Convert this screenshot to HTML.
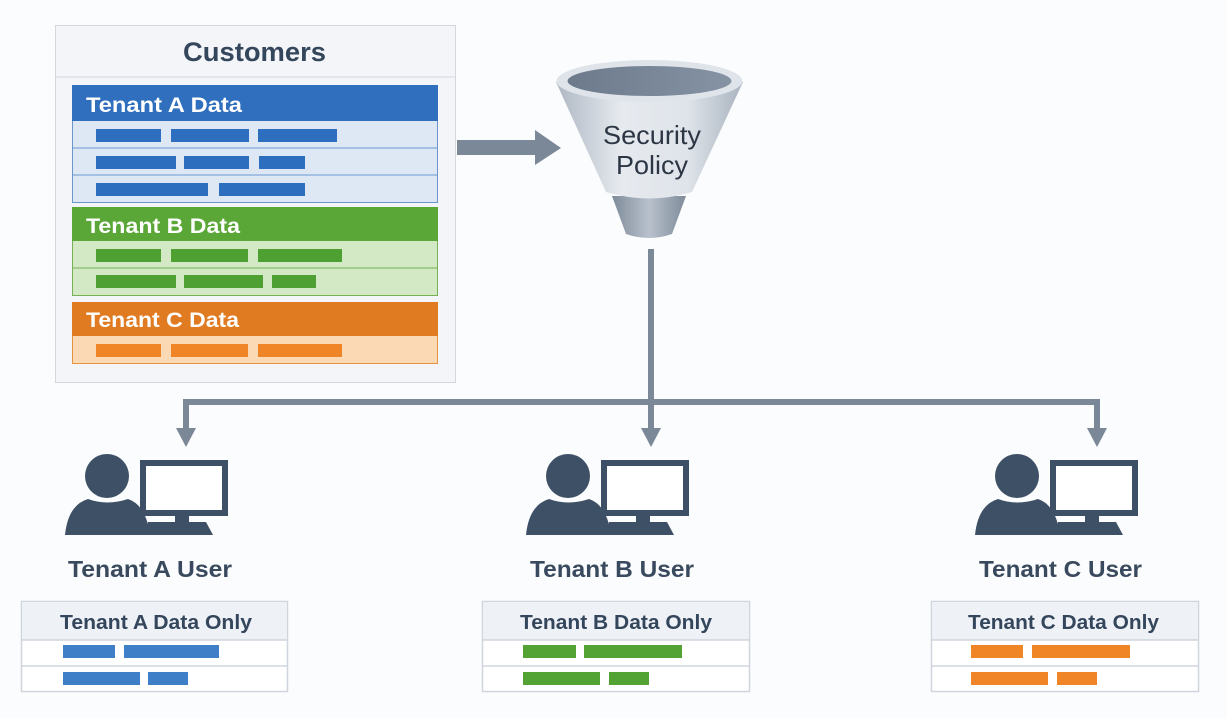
<!DOCTYPE html>
<html><head><meta charset="utf-8"><style>
html,body{margin:0;padding:0;background:#fbfcfd;}
svg{display:block;font-family:"Liberation Sans",sans-serif;}
</style></head><body>
<svg width="1227" height="718" viewBox="0 0 1227 718" xmlns="http://www.w3.org/2000/svg">
<defs>
<linearGradient id="fun" x1="0" x2="1" y1="0" y2="0">
<stop offset="0" stop-color="#aeb7c3"/><stop offset="0.35" stop-color="#e6eaef"/><stop offset="0.7" stop-color="#dfe4ea"/><stop offset="1" stop-color="#a9b3bf"/></linearGradient>
<linearGradient id="stem" x1="0" x2="1"><stop offset="0" stop-color="#7f8b9a"/><stop offset="0.5" stop-color="#b8c1cc"/><stop offset="1" stop-color="#7f8b9a"/></linearGradient>
<linearGradient id="hole" x1="0" x2="1"><stop offset="0" stop-color="#6c7a8c"/><stop offset="1" stop-color="#8593a4"/></linearGradient>
</defs>
<rect width="1227" height="718" fill="#fbfcfd"/>
<rect x="55.5" y="25.5" width="400" height="357" fill="#f3f5f8" stroke="#d3d8df"/>
<line x1="56" y1="77" x2="455" y2="77" stroke="#d3d8df"/>
<text x="183" y="61" font-size="27" font-weight="bold" fill="#34465c" textLength="143" lengthAdjust="spacingAndGlyphs">Customers</text>
<rect x="72.5" y="120.5" width="365" height="82" fill="#dde8f4" stroke="#6b97cf"/>
<line x1="73" y1="148" x2="437" y2="148" stroke="#6b97cf"/>
<line x1="73" y1="175" x2="437" y2="175" stroke="#6b97cf"/>
<rect x="72" y="85" width="366" height="36" fill="#2f6fbd"/>
<text x="86" y="112" font-size="21" font-weight="bold" fill="#fff" textLength="156" lengthAdjust="spacingAndGlyphs">Tenant A Data</text>
<g fill="#2e6ebf">
<rect x="96" y="129" width="65" height="13"/><rect x="171" y="129" width="78" height="13"/><rect x="258" y="129" width="79" height="13"/>
<rect x="96" y="156" width="80" height="13"/><rect x="184" y="156" width="65" height="13"/><rect x="259" y="156" width="46" height="13"/>
<rect x="96" y="183" width="112" height="13"/><rect x="219" y="183" width="86" height="13"/>
</g>
<rect x="72.5" y="240.5" width="365" height="55" fill="#d3e8c4" stroke="#76b153"/>
<line x1="73" y1="268" x2="437" y2="268" stroke="#76b153"/>
<rect x="72" y="207" width="366" height="34" fill="#5aa637"/>
<text x="86" y="233" font-size="21" font-weight="bold" fill="#fff" textLength="154" lengthAdjust="spacingAndGlyphs">Tenant B Data</text>
<g fill="#4fa032">
<rect x="96" y="249" width="65" height="13"/><rect x="171" y="249" width="77" height="13"/><rect x="258" y="249" width="84" height="13"/>
<rect x="96" y="275" width="80" height="13"/><rect x="184" y="275" width="79" height="13"/><rect x="272" y="275" width="44" height="13"/>
</g>
<rect x="72.5" y="335.5" width="365" height="28" fill="#fbd9b5" stroke="#e6933f"/>
<rect x="72" y="302" width="366" height="34" fill="#e07b22"/>
<text x="86" y="327" font-size="21" font-weight="bold" fill="#fff" textLength="153" lengthAdjust="spacingAndGlyphs">Tenant C Data</text>
<g fill="#ef8526">
<rect x="96" y="344" width="65" height="13"/><rect x="171" y="344" width="77" height="13"/><rect x="258" y="344" width="84" height="13"/>
</g>
<rect x="457" y="140" width="80" height="15" fill="#7b8898"/>
<polygon points="535,130 561,148 535,165" fill="#7b8898"/>
<path d="M612,196 L686,196 L672,234 Q649,242 626,234 Z" fill="url(#stem)"/>
<path d="M556,82 L743,82 L692,192 Q649,205 606,192 Z" fill="url(#fun)"/>
<ellipse cx="649.5" cy="81" rx="93" ry="21" fill="#dfe4ea"/>
<ellipse cx="649.5" cy="81" rx="82" ry="15" fill="url(#hole)"/>
<text x="603" y="144" font-size="26" fill="#2c3644" textLength="98" lengthAdjust="spacingAndGlyphs">Security</text>
<text x="616" y="174" font-size="26" fill="#2c3644" textLength="72" lengthAdjust="spacingAndGlyphs">Policy</text>
<g fill="#7b8898">
<rect x="648" y="249" width="6" height="182"/>
<rect x="183" y="399" width="917" height="6"/>
<rect x="183" y="399" width="6" height="32"/>
<rect x="1094" y="399" width="6" height="32"/>
<polygon points="176,428 196,428 186,447"/>
<polygon points="641,428 661,428 651,447"/>
<polygon points="1087,428 1107,428 1097,447"/>
</g>
<g>
<circle cx="107" cy="476" r="22" fill="#3e5066"/>
<path d="M65,535 Q68,505 88,499 Q107,506 128,499 Q146,505 150,535 Z" fill="#3e5066"/>
<rect x="143" y="463" width="82" height="50" fill="#fff" stroke="#3e5066" stroke-width="6"/>
<rect x="175" y="515" width="14" height="8" fill="#3e5066"/>
<path d="M148,522 L206,522 L213,535 L146,535 Z" fill="#3e5066"/>
<text x="68" y="577" font-size="23" font-weight="bold" fill="#3a4a5e" textLength="164" lengthAdjust="spacingAndGlyphs">Tenant A User</text>
<rect x="21.5" y="601.5" width="266" height="90" fill="#fff" stroke="#cfd5dd" stroke-width="1.5"/>
<rect x="22" y="602" width="265" height="38" fill="#eef1f5"/>
<line x1="22" y1="640" x2="287" y2="640" stroke="#cfd5dd" stroke-width="1.5"/>
<line x1="22" y1="666" x2="287" y2="666" stroke="#cfd5dd" stroke-width="1.5"/>
<text x="60" y="629" font-size="20" font-weight="bold" fill="#34465c" textLength="192" lengthAdjust="spacingAndGlyphs">Tenant A Data Only</text>
<g fill="#3f7fc8"><rect x="63" y="645" width="52" height="13"/><rect x="124" y="645" width="95" height="13"/><rect x="63" y="672" width="77" height="13"/><rect x="148" y="672" width="40" height="13"/></g>
</g>
<g transform="translate(461,0)">
<circle cx="107" cy="476" r="22" fill="#3e5066"/>
<path d="M65,535 Q68,505 88,499 Q107,506 128,499 Q146,505 150,535 Z" fill="#3e5066"/>
<rect x="143" y="463" width="82" height="50" fill="#fff" stroke="#3e5066" stroke-width="6"/>
<rect x="175" y="515" width="14" height="8" fill="#3e5066"/>
<path d="M148,522 L206,522 L213,535 L146,535 Z" fill="#3e5066"/>
<text x="69" y="577" font-size="23" font-weight="bold" fill="#3a4a5e" textLength="164" lengthAdjust="spacingAndGlyphs">Tenant B User</text>
<rect x="21.5" y="601.5" width="267" height="90" fill="#fff" stroke="#cfd5dd" stroke-width="1.5"/>
<rect x="22" y="602" width="266" height="38" fill="#eef1f5"/>
<line x1="22" y1="640" x2="288" y2="640" stroke="#cfd5dd" stroke-width="1.5"/>
<line x1="22" y1="666" x2="288" y2="666" stroke="#cfd5dd" stroke-width="1.5"/>
<text x="59" y="629" font-size="20" font-weight="bold" fill="#34465c" textLength="192" lengthAdjust="spacingAndGlyphs">Tenant B Data Only</text>
<g fill="#52a334"><rect x="62" y="645" width="53" height="13"/><rect x="123" y="645" width="98" height="13"/><rect x="62" y="672" width="77" height="13"/><rect x="148" y="672" width="40" height="13"/></g>
</g>
<g transform="translate(910,0)">
<circle cx="107" cy="476" r="22" fill="#3e5066"/>
<path d="M65,535 Q68,505 88,499 Q107,506 128,499 Q146,505 150,535 Z" fill="#3e5066"/>
<rect x="143" y="463" width="82" height="50" fill="#fff" stroke="#3e5066" stroke-width="6"/>
<rect x="175" y="515" width="14" height="8" fill="#3e5066"/>
<path d="M148,522 L206,522 L213,535 L146,535 Z" fill="#3e5066"/>
<text x="69" y="577" font-size="23" font-weight="bold" fill="#3a4a5e" textLength="163" lengthAdjust="spacingAndGlyphs">Tenant C User</text>
<rect x="21.5" y="601.5" width="267" height="90" fill="#fff" stroke="#cfd5dd" stroke-width="1.5"/>
<rect x="22" y="602" width="266" height="38" fill="#eef1f5"/>
<line x1="22" y1="640" x2="288" y2="640" stroke="#cfd5dd" stroke-width="1.5"/>
<line x1="22" y1="666" x2="288" y2="666" stroke="#cfd5dd" stroke-width="1.5"/>
<text x="58" y="629" font-size="20" font-weight="bold" fill="#34465c" textLength="191" lengthAdjust="spacingAndGlyphs">Tenant C Data Only</text>
<g fill="#ef8526"><rect x="61" y="645" width="52" height="13"/><rect x="122" y="645" width="98" height="13"/><rect x="61" y="672" width="77" height="13"/><rect x="147" y="672" width="40" height="13"/></g>
</g>
</svg>
</body></html>
